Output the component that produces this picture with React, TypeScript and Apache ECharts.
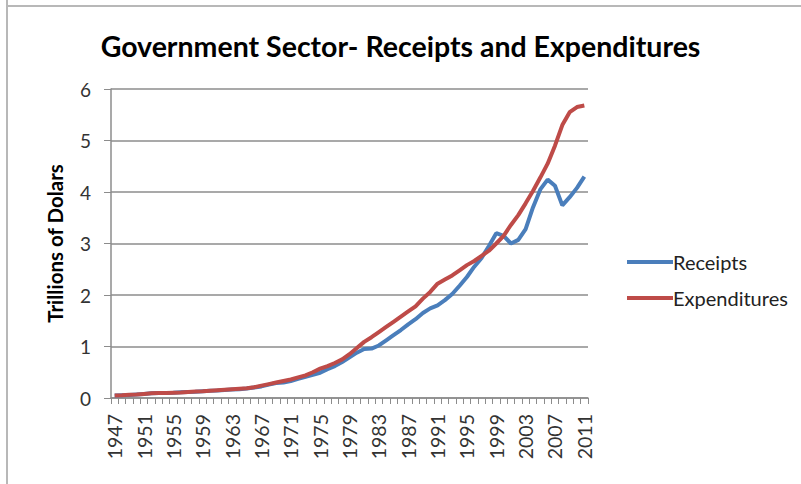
import React, { useEffect, useRef } from "react";
import * as echarts from "echarts";

const years: string[] = [];
for (let y = 1947; y <= 2011; y++) years.push(String(y));

const receipts = [
  0.05, 0.055, 0.06, 0.07, 0.08, 0.09, 0.095, 0.095, 0.10, 0.11,
  0.115, 0.12, 0.13, 0.14, 0.145, 0.155, 0.165, 0.17, 0.185, 0.205,
  0.225, 0.26, 0.29, 0.30, 0.33, 0.37, 0.41, 0.45, 0.49, 0.56,
  0.62, 0.70, 0.79, 0.88, 0.95, 0.96, 1.02, 1.12, 1.22, 1.32,
  1.43, 1.53, 1.65, 1.74, 1.80, 1.90, 2.02, 2.18, 2.35, 2.55,
  2.72, 2.95, 3.20, 3.15, 3.00, 3.07, 3.28, 3.70, 4.05, 4.24,
  4.12, 3.74, 3.90, 4.08, 4.30,
];

const expenditures = [
  0.05, 0.055, 0.065, 0.07, 0.08, 0.09, 0.095, 0.095, 0.10, 0.105,
  0.115, 0.125, 0.13, 0.14, 0.15, 0.16, 0.17, 0.18, 0.19, 0.21,
  0.24, 0.27, 0.30, 0.33, 0.36, 0.40, 0.44, 0.50, 0.57, 0.62,
  0.68, 0.75, 0.85, 0.97, 1.09, 1.18, 1.28, 1.38, 1.48, 1.58,
  1.68, 1.78, 1.93, 2.06, 2.22, 2.30, 2.38, 2.48, 2.58, 2.66,
  2.76, 2.86, 3.00, 3.15, 3.36, 3.55, 3.78, 4.02, 4.28, 4.55,
  4.90, 5.30, 5.55, 5.65, 5.68,
];

const yTicks = [0, 1, 2, 3, 4, 5, 6];

const FONT = "Lato";

export default function App() {
  const ref = useRef<HTMLDivElement>(null);
  useEffect(() => {
    if (!ref.current) return;
    const chart = echarts.init(ref.current, undefined, { renderer: "svg" });
    chart.setOption({
      animation: false,
      backgroundColor: "#ffffff",
      textStyle: { fontFamily: FONT },
      title: {
        text: "Government Sector- Receipts and Expenditures",
        left: "center",
        top: 26,
        textStyle: { fontFamily: FONT, fontWeight: "bold", fontSize: 28.5, color: "#000000" },
      },
      graphic: [
        { type: "line", shape: { x1: 7, y1: 0, x2: 7, y2: 484 }, style: { stroke: "#b8b8b8", lineWidth: 2 } },
        { type: "line", shape: { x1: 6, y1: 6, x2: 801, y2: 6 }, style: { stroke: "#b8b8b8", lineWidth: 2 } },
      ],
      legend: {
        orient: "vertical",
        left: 622,
        top: 247,
        itemWidth: 46,
        itemHeight: 4,
        itemGap: 16,
        icon: "rect",
        textStyle: { fontFamily: FONT, fontSize: 20, color: "#222222", padding: [0, 0, 0, -5] },
        data: [
          { name: "Receipts", itemStyle: { color: "#4a7ebb" } },
          { name: "Expenditures", itemStyle: { color: "#be4b48" } },
        ],
      },
      grid: { left: 111, right: 213, top: 89, bottom: 86 },
      xAxis: {
        type: "category",
        data: years,
        boundaryGap: true,
        axisLine: { lineStyle: { color: "#8c8c8c", width: 1.5 } },
        axisTick: { show: true, interval: 0, length: 6, lineStyle: { color: "#8c8c8c" } },
        axisLabel: {
          interval: 3,
          rotate: 90,
          margin: 16,
          fontFamily: FONT,
          fontSize: 19.5,
          color: "#333333",
        },
        splitLine: { show: false },
      },
      yAxis: {
        type: "value",
        min: 0,
        max: 6,
        interval: 1,
        name: "Trillions of Dolars",
        nameLocation: "middle",
        nameRotate: 90,
        nameGap: 46,
        nameTextStyle: { fontFamily: FONT, fontWeight: "bold", fontSize: 20.5, color: "#000000" },
        axisLine: { show: true, lineStyle: { color: "#8c8c8c", width: 1.5 } },
        axisTick: { show: true, length: 7, lineStyle: { color: "#8c8c8c" } },
        axisLabel: {
          margin: 20,
          fontFamily: FONT,
          fontSize: 19,
          color: "#333333",
          formatter: (v: number) => (yTicks.includes(v) ? String(v) : ""),
        },
        splitLine: { show: true, lineStyle: { color: "#8c8c8c", width: 1.5 } },
      },
      series: [
        {
          name: "Receipts",
          type: "line",
          data: receipts,
          symbol: "none",
          lineStyle: { color: "#4a7ebb", width: 4 },
          itemStyle: { color: "#4a7ebb" },
        },
        {
          name: "Expenditures",
          type: "line",
          data: expenditures,
          symbol: "none",
          lineStyle: { color: "#be4b48", width: 4 },
          itemStyle: { color: "#be4b48" },
        },
      ],
    });
    return () => chart.dispose();
  }, []);
  return <div ref={ref} style={{ width: 801, height: 484, position: "absolute", left: 0, top: 0 }} />;
}
